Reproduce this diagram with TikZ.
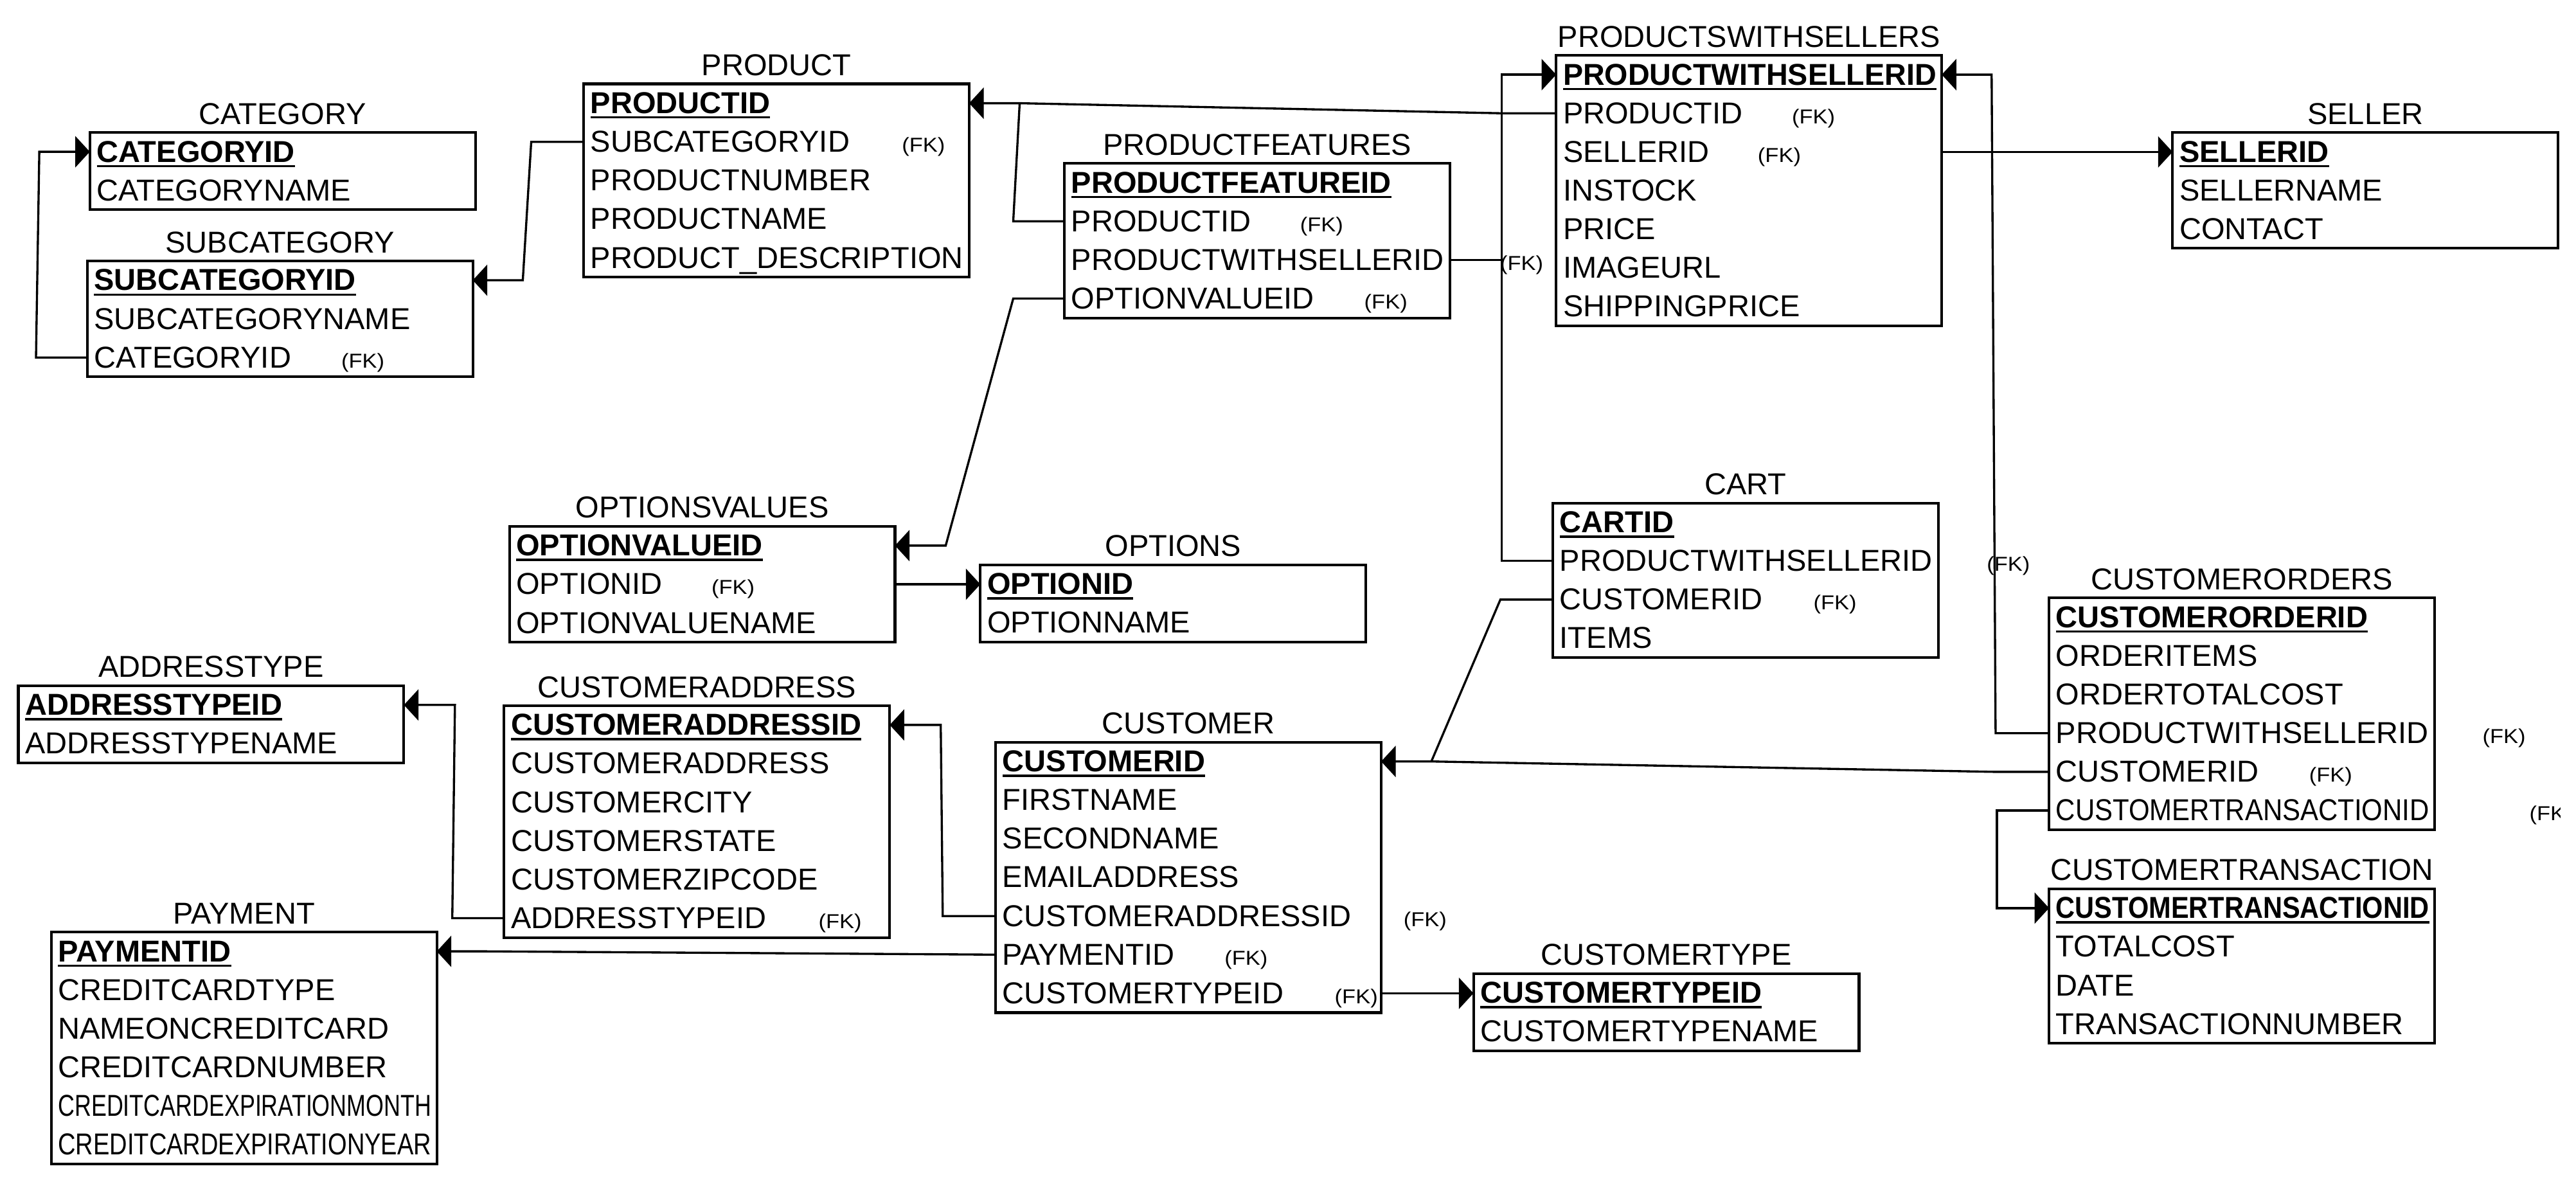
\documentclass[tikz,border=0pt]{standalone}
\usepackage{fontspec}
\setmainfont{Liberation Sans}
\usepackage{graphicx}
\usetikzlibrary{arrows.meta,calc}
\newcommand\rowfont{\fontsize{18.3}{22}\selectfont}
\newcommand\fkfont{\fontsize{12.2}{14}\selectfont}
\newsavebox\fitbox
\newcommand\fitto[2]{\sbox\fitbox{#2}\ifdim\wd\fitbox>#1\relax\resizebox{#1}{\height}{\usebox\fitbox}\else\usebox\fitbox\fi}
\newcommand\ulb[1]{\setbox0\hbox{\bfseries #1}\rlap{\rule[-3.1pt]{\wd0}{1.3pt}}\box0}
\newcommand\fk[1]{\rlap{\hspace*{#1pt}{\fkfont\scalebox{1.1}[1]{(FK)}}}}
\tikzset{
  ebox/.style={draw, line width=1.6pt, minimum width=233.5pt, inner sep=0pt, outer sep=0pt},
  erow/.style={minimum width=233.5pt, minimum height=23.4pt, inner sep=0pt, outer sep=0pt},
  etext/.style={inner sep=0pt, font=\rowfont},
  etitle/.style={inner sep=0pt, font=\rowfont},
  fkn/.style={inner sep=0pt, font=\fkfont},
  conn/.style={line width=1.3pt},
  fkarrow/.style={conn, -{Triangle[length=8.8pt,width=18.8pt]}}
}
\newcommand\entity[6]{%
  \node[ebox, minimum height=#4*23.4pt, anchor=north west] (#1) at (#2,#3) {};
  \node[etitle, anchor=base] (#1-t) at ([yshift=5pt]#1.north) {\fitto{231.5pt}{#5}};
  \foreach \txt [count=\i] in {#6} {
    \node[erow, anchor=north west] (#1-\i) at ([yshift={-(\i-1)*23.4pt}]#1.north west) {};
    \node[etext, anchor=base west] (#1-\i-x) at ([xshift=4pt,yshift=-6.2pt]#1-\i.west) {\fitto{226pt}{\txt}};
  }%
}
\begin{document}
\begin{tikzpicture}[x=1pt,y=-1pt]
\fill[white] (0,0) rectangle (1560,715.4);
\useasboundingbox (0,0) rectangle (1560,715.4);

\entity{cat}{54.4}{80.2}{2}{CATEGORY}{{\ulb{CATEGORYID}},CATEGORYNAME}
\entity{subcat}{52.8}{158}{3}{SUBCATEGORY}{{\ulb{SUBCATEGORYID}},SUBCATEGORYNAME,{\fk{149.7}CATEGORYID}}
\entity{product}{353.4}{50.8}{5}{PRODUCT}{{\ulb{PRODUCTID}},{\fk{188.6}SUBCATEGORYID},PRODUCTNUMBER,PRODUCTNAME,PRODUCT\_DESCRIPTION}
\entity{pf}{644.6}{98.9}{4}{PRODUCTFEATURES}{{\ulb{PRODUCTFEATUREID}},{\fk{138.5}PRODUCTID},{\fk{259.7}PRODUCTWITHSELLERID},{\fk{177.4}OPTIONVALUEID}}
\entity{pws}{942.4}{33.5}{7}{PRODUCTSWITHSELLERS}{{\ulb{PRODUCTWITHSELLERID}},{\fk{138.6}PRODUCTID},{\fk{117.9}SELLERID},INSTOCK,PRICE,IMAGEURL,SHIPPINGPRICE}
\entity{seller}{1315.7}{80.2}{3}{SELLER}{{\ulb{SELLERID}},SELLERNAME,CONTACT}
\entity{ov}{308.5}{318.7}{3}{OPTIONSVALUES}{{\ulb{OPTIONVALUEID}},{\fk{118.2}OPTIONID},OPTIONVALUENAME}
\entity{options}{593.7}{342}{2}{OPTIONS}{{\ulb{OPTIONID}},OPTIONNAME}
\entity{cart}{940.4}{304.6}{4}{CART}{{\ulb{CARTID}},{\fk{258.6}PRODUCTWITHSELLERID},{\fk{153.6}CUSTOMERID},ITEMS}
\entity{adt}{11.1}{415.2}{2}{ADDRESSTYPE}{{\ulb{ADDRESSTYPEID}},ADDRESSTYPENAME}
\entity{ca}{305.3}{427.3}{6}{CUSTOMERADDRESS}{{\ulb{CUSTOMERADDRESSID}},CUSTOMERADDRESS,CUSTOMERCITY,CUSTOMERSTATE,CUSTOMERZIPCODE,{\fk{186.2}ADDRESSTYPEID}}
\entity{customer}{602.9}{449.4}{7}{CUSTOMER}{{\ulb{CUSTOMERID}},FIRSTNAME,SECONDNAME,EMAILADDRESS,{\fk{242.9}CUSTOMERADDRESSID},{\fk{134.5}PAYMENTID},{\fk{201.2}CUSTOMERTYPEID}}
\entity{payment}{31}{564.4}{6}{PAYMENT}{{\ulb{PAYMENTID}},CREDITCARDTYPE,NAMEONCREDITCARD,CREDITCARDNUMBER,CREDITCARDEXPIRATIONMONTH,CREDITCARDEXPIRATIONYEAR}
\entity{ctype}{892.3}{589.5}{2}{CUSTOMERTYPE}{{\ulb{CUSTOMERTYPEID}},CUSTOMERTYPENAME}
\entity{co}{1240.9}{362.1}{6}{CUSTOMERORDERS}{{\ulb{CUSTOMERORDERID}},ORDERITEMS,ORDERTOTALCOST,{\fk{258.3}PRODUCTWITHSELLERID},{\fk{153.3}CUSTOMERID},CUSTOMERTRANSACTIONID}
\entity{ctr}{1240.9}{538.2}{4}{CUSTOMERTRANSACTION}{{\ulb{CUSTOMERTRANSACTIONID}},TOTALCOST,DATE,TRANSACTIONNUMBER}

% clipped (FK) at the right edge
\begin{scope}
  \clip (1500,478) rectangle (1550.3,505);
  \node[fkn, anchor=base west] (cofk) at ([xshift=286.7pt]co-6-x.base west) {\scalebox{1.1}[1]{(FK)}};
\end{scope}

% connectors
\draw[fkarrow] (subcat-3.west) -- ++(-31,0) -- ([xshift=-30.6pt]cat-1.west) -- (cat-1.west);
\draw[fkarrow] (product-2.west) -- ++(-31.7,0) -- ([xshift=30.3pt]subcat-1.east) -- (subcat-1.east);
\draw[fkarrow] (pws-2.west) -- ++(-32.9,0) -- ([xshift=30.6pt]product-1.east) -- (product-1.east);
\draw[conn] (pf-2.west) -- ++(-31,0) -- ([xshift=30.6pt]product-1.east);
\draw[fkarrow] (pf-4.west) -- ++(-31,0) -- ([xshift=30.7pt]ov-1.east) -- (ov-1.east);
\draw[fkarrow] (ov-2.east) -- (ov-2.east -| options-1.west);
\draw[fkarrow] (cart-2.west) -- ++(-30.9,0) |- (pws-1.west);
\draw[conn] (pf-3.east) -- ++(31.4,0);
\draw[conn] (cart-3.west) -- ++(-31.8,0) -- ([xshift=30.4pt]customer-1.east);
\draw[fkarrow] (co-5.west) -- ++(-33,0) -- ([xshift=30.4pt]customer-1.east) -- (customer-1.east);
\draw[fkarrow] (ca-6.west) -- ++(-31.4,0) -- ([xshift=30.9pt]adt-1.east) -- (adt-1.east);
\draw[fkarrow] (customer-5.west) -- ++(-32,0) -- ([xshift=30.9pt]ca-1.east) -- (ca-1.east);
\draw[fkarrow] (customer-6.west) -- ([xshift=30pt]payment-1.east) -- (payment-1.east);
\draw[fkarrow] (customer-7.east) -- (customer-7.east -| ctype-1.west);
\draw[fkarrow] (pws-3.east) -- (pws-3.east -| seller-1.west);
\draw[fkarrow] (co-4.west) -- ++(-32.4,0) -- ([xshift=30.2pt]pws-1.east) -- (pws-1.east);
\draw[fkarrow] (co-6.west) -- ++(-31.6,0) |- (ctr-1.west);
\end{tikzpicture}
\end{document}
